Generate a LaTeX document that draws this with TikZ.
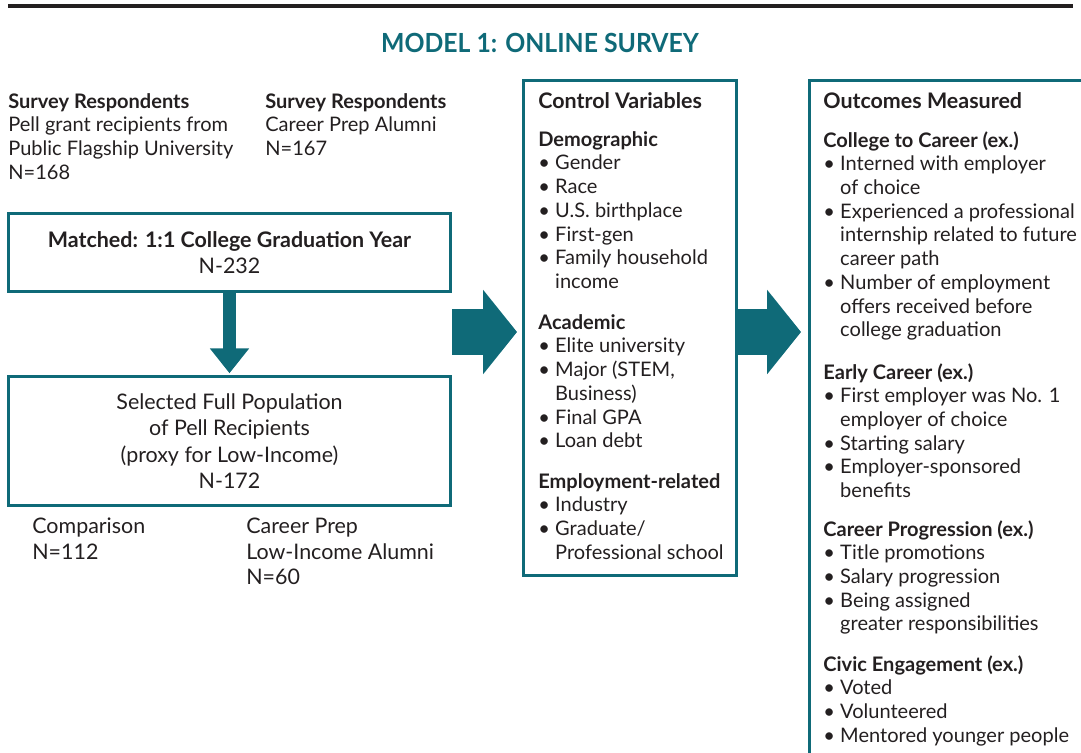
\documentclass[tikz,border=0pt]{standalone}
\usepackage{fontspec}
\setmainfont{Lato}
\usepackage{tikz}
\usetikzlibrary{arrows.meta}
\definecolor{ink}{HTML}{231F20}
\definecolor{petrol}{HTML}{0F6A78}
\newcommand{\bul}{\makebox[9.6pt][l]{\textbullet}}
\newcommand{\ind}{\hspace*{9.6pt}}
\tikzset{
  frame/.style={draw=petrol, line width=1.7pt},
  box/.style={frame, rectangle, inner sep=0pt, align=center, text=ink, font=\fontsize{12.2}{15}\selectfont},
  txt/.style={anchor=north west, yshift=8pt, inner sep=0pt, align=left, text=ink,
    font=\fontsize{11.4}{13.5}\selectfont, execute at begin node=\strut},
  low/.style={txt, yshift=-1pt, font=\fontsize{12.2}{14.5}\selectfont},
  boxhead/.style={anchor=base west, inner sep=0pt, text=ink, font=\fontsize{12.2}{14.5}\selectfont\bfseries},
  fat/.style={draw=petrol, line width=26.6pt, -{Triangle[width=47pt,length=19.3pt]}},
  slim/.style={draw=petrol, line width=7.9pt, -{Triangle[width=21.5pt,length=14.2pt]}},
}
\begin{document}
\begin{tikzpicture}[x=0.02cm,y=-0.02cm]
  \clip (0,0) rectangle (1081,752);
  \draw[ink, line width=2.3pt] (8,5.8) -- (1073,5.8);
  \node[anchor=base, inner sep=0pt, text=petrol, font=\fontsize{15}{18}\selectfont\bfseries] (title) at (540,52)
    {\scalebox{0.94}[1]{MODEL 1: ONLINE SURVEY}};

  \node[txt] (resp1) at (8,107) {\textbf{Survey Respondents}\\Pell grant recipients from\\Public Flagship University\\N=168};
  \node[txt] (resp2) at (265,107) {\textbf{Survey Respondents}\\Career Prep Alumni\\N=167};

  \node[box, minimum width=8.84cm, minimum height=1.56cm] (matched) at (229.5,252.5)
    {\textbf{Matched: 1:1 College Graduation Year}\\N-232};
  \node[box, minimum width=8.84cm, minimum height=2.58cm] (selected) at (229.5,441)
    {Selected Full Population\\of Pell Recipients\\(proxy for Low-Income)\\N-172};
  \draw[slim, shorten >=1pt] (matched.south) -- (selected.north);

  \node[low] (comp) at (32,530) {Comparison\\N=112};
  \node[low] (prep) at (246,530) {Career Prep\\Low-Income Alumni\\N=60};

  \node[frame, minimum width=4.26cm, minimum height=9.9cm] (ctrl) at (630,328) {};
  \node[frame, minimum width=5.81cm, minimum height=13.99cm] (outc) at (954.75,430.25) {};

  \coordinate (r1) at (452,332);
  \draw[fat, shorten >=0.1cm] (r1) -- (r1 -| ctrl.west);
  \draw[fat, shorten >=0.14cm] (ctrl.east |- r1) -- (outc.west |- r1);

  \node[boxhead] (cv) at (538,108) {Control Variables};
  \node[txt] (demo) at (538,145) {\textbf{Demographic}\\\bul Gender\\\bul Race\\\bul U.S. birthplace\\\bul First-gen\\\bul Family household\\\ind income};
  \node[txt] (acad) at (538,328) {\textbf{Academic}\\\bul Elite university\\\bul Major (STEM,\\\ind Business)\\\bul Final GPA\\\bul Loan debt};
  \node[txt] (empl) at (538,487) {\textbf{Employment-related}\\\bul Industry\\\bul Graduate/\\\ind Professional school};

  \node[boxhead] (om) at (823,108) {Outcomes Measured};
  \node[txt] (c2c) at (823,145) {\textbf{College to Career (ex.)}\\\bul Interned with employer\\\ind of choice\\\bul Experienced a professional\\\ind internship related to future\\\ind career path\\\bul Number of employment\\\ind offers received before\\\ind college graduation};
  \node[txt] (early) at (823,377) {\textbf{Early Career (ex.)}\\\bul First employer was No. 1\\\ind employer of choice\\\bul Starting salary\\\bul Employer-sponsored\\\ind benefits};
  \node[txt] (prog) at (823,534) {\textbf{Career Progression (ex.)}\\\bul Title promotions\\\bul Salary progression\\\bul Being assigned\\\ind greater responsibilities};
  \node[txt] (civic) at (823,669) {\textbf{Civic Engagement (ex.)}\\\bul Voted\\\bul Volunteered\\\bul Mentored younger people};
\end{tikzpicture}
\end{document}
